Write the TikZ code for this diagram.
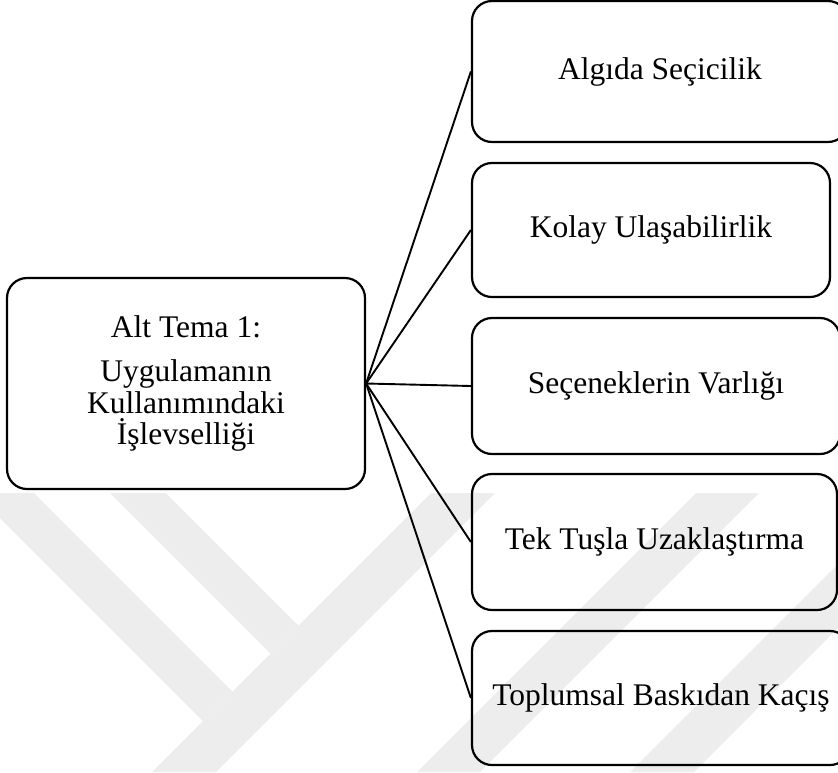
\documentclass[tikz,border=0pt]{standalone}
\usepackage{fontspec}
\setmainfont{Liberation Serif}
\begin{document}
\begin{tikzpicture}[x=1pt,y=-1pt,
  box/.style={draw=black, line width=2.2pt, rounded corners=20pt, inner sep=0pt,
    align=center, font=\fontsize{31.5}{31.5}\selectfont},
  link/.style={draw=black, line width=1.9pt},
  wm/.style={fill=black!7, draw=none}]
\useasboundingbox (0,0) rectangle (838,772);
% faint watermark
\begin{scope}
\clip (0,493) rectangle (838,772);
\fill[wm] (-25,493) -- (34,493) -- (232.5,691.5) -- (203,721) -- cycle;
\fill[wm] (110,493) -- (166,493) -- (298.5,625.5) -- (270.5,653.5) -- cycle;
\fill[wm] (431,493) -- (495,493) -- (216,772) -- (152,772) -- cycle;
\fill[wm] (696,493) -- (759,493) -- (480,772) -- (417,772) -- cycle;
\fill[wm] (909,493) -- (973,493) -- (694,772) -- (630,772) -- cycle;
\end{scope}
% boxes
\node[box, minimum width=358pt, minimum height=211pt] (main) at (186,383.5)
  {Alt Tema 1:\\[12.5pt] Uygulamanın\\ Kullanımındaki\\ İşlevselliği};
\node[box, minimum width=376pt, minimum height=141pt] (b1) at (660,71.5) {Algıda Seçicilik};
\node[box, minimum width=358pt, minimum height=134pt] (b2) at (651,230) {Kolay Ulaşabilirlik};
\node[box, minimum width=368pt, minimum height=136pt] (b3) at (656,386) {Seçeneklerin Varlığı};
\node[box, minimum width=365pt, minimum height=136pt] (b4) at (654.5,542) {Tek Tuşla Uzaklaştırma};
\node[box, minimum width=378pt, minimum height=134pt] (b5) at (661,698) {Toplumsal Baskıdan Kaçış};
% connectors
\foreach \b in {b1,b2,b3,b4,b5}
  \draw[link] (main.east) -- (\b.west);
\end{tikzpicture}
\end{document}
